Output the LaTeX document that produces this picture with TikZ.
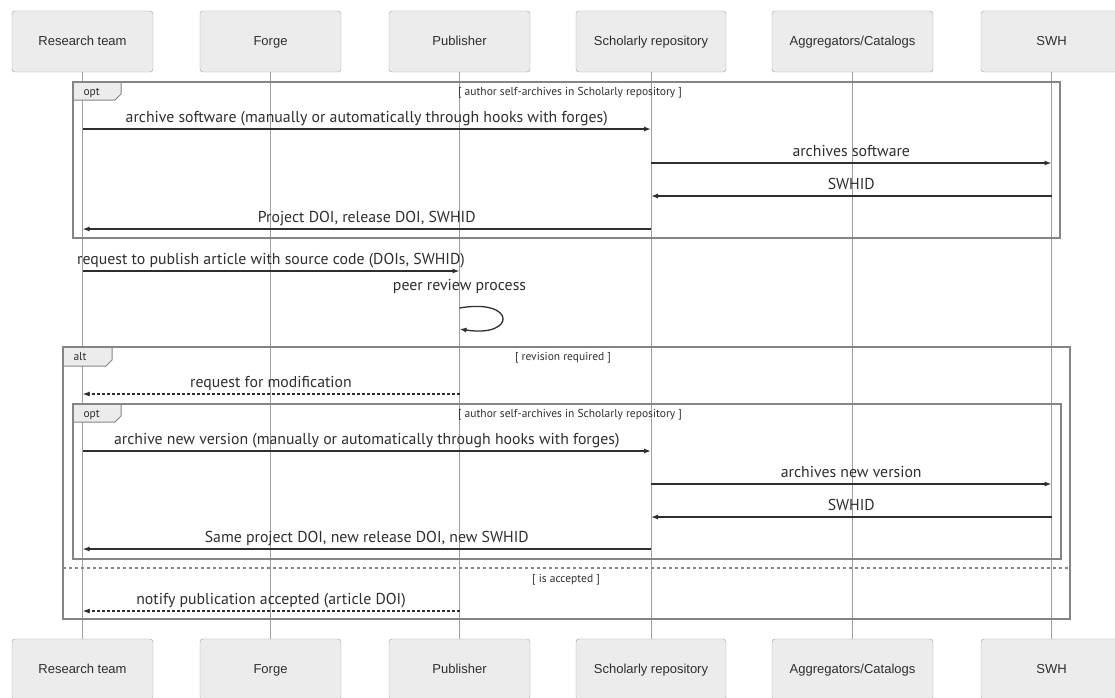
\documentclass[tikz,border=0pt]{standalone}
\usepackage{fontspec}
\setmainfont{PT Sans}
\newfontfamily\actorfont{Liberation Sans}
\usetikzlibrary{arrows.meta,calc}

\definecolor{actorfill}{HTML}{ECECEC}
\definecolor{actorline}{HTML}{A0A0A0}
\definecolor{frameline}{HTML}{858585}
\definecolor{lifegray}{HTML}{A0A0A0}
\definecolor{msgline}{HTML}{2E2E2E}

\tikzset{
  actor/.style={draw=actorline, fill=actorfill, rounded corners=3pt, minimum height=61pt,
    text height=9.5pt, text depth=2.5pt,
    font=\actorfont\fontsize{13}{15}\selectfont, text=msgline},
  life/.style={draw=lifegray, line width=0.8pt},
  frame/.style={draw=frameline, line width=1.8pt},
  tab/.style={fill=actorfill, draw=frameline, line width=1pt},
  msg/.style={draw=msgline, line width=1.3pt, -{Latex[length=7pt,width=5pt]}},
  reply/.style={msg, dash pattern=on 3pt off 2pt},
  msgtext/.style={anchor=base, yshift=7pt, font=\fontsize{15.8}{18}\selectfont, text=msgline},
  cond/.style={anchor=base, font=\fontsize{11.5}{13}\selectfont, text=msgline},
}

% message between two lifelines at height #4
\newcommand{\msg}[5][msg]{%
  \path (#2 |- 0,#4) coordinate (ma) (#3 |- 0,#4) coordinate (mb);
  \draw[#1] (ma) -- node[msgtext]{#5} (mb);
}

\begin{document}
\begin{tikzpicture}[x=1pt,y=-1pt]
\useasboundingbox (0,0) rectangle (1115,697);

% participants
\node[actor, minimum width=141pt] (rt) at (82.5,41.5) {Research team};
\node[actor, minimum width=141pt] (fg) at (270.5,41.5) {Forge};
\node[actor, minimum width=141pt] (pb) at (459.5,41.5) {Publisher};
\node[actor, minimum width=150pt] (sr) at (651,41.5) {Scholarly repository};
\node[actor, minimum width=161pt] (ag) at (852.5,41.5) {Aggregators/Catalogs};
\node[actor, minimum width=141pt] (sw) at (1051.5,41.5) {SWH};

\node[actor, minimum width=141pt] (rtb) at (82.5,669.5) {Research team};
\node[actor, minimum width=141pt] (fgb) at (270.5,669.5) {Forge};
\node[actor, minimum width=141pt] (pbb) at (459.5,669.5) {Publisher};
\node[actor, minimum width=150pt] (srb) at (651,669.5) {Scholarly repository};
\node[actor, minimum width=161pt] (agb) at (852.5,669.5) {Aggregators/Catalogs};
\node[actor, minimum width=141pt] (swb) at (1051.5,669.5) {SWH};

% lifelines
\draw[life] (rt) -- (rtb);
\draw[life] (fg) -- (fgb);
\draw[life] (pb) -- (pbb);
\draw[life] (sr) -- (srb);
\draw[life] (ag) -- (agb);
\draw[life] (sw) -- (swb);

% opt: first self-archiving
\draw[tab] (73,82) -- (121,82) -- (121,94) -- (115,100) -- (73,100) -- cycle;
\draw[frame] (73,82) rectangle (1060,238);
\node[cond, anchor=base west] (opt1) at (80,95) {opt};
\node[cond] (opt1c) at (570,95) {[ author self-archives in Scholarly repository ]};

\msg{rt}{sr}{129}{archive software (manually or automatically through hooks with forges)}
\msg{sr}{sw}{163}{archives software}
\msg{sw}{sr}{196}{SWHID}
\msg{sr}{rt}{229}{Project DOI, release DOI, SWHID}

\msg{rt}{pb}{271}{request to publish article with source code (DOIs, SWHID)}

% peer review loop
\node[msgtext, yshift=0pt] (prv) at (pb |- 0,297) {peer review process};
\path (pb |- 0,308) coordinate (ls) (pb |- 0,329) coordinate (le);
\draw[msg] (ls) .. controls ($(ls)+(57,-10)$) and ($(le)+(57,9)$) .. (le);

% alt
\draw[tab] (63,347) -- (112,347) -- (112,360) -- (106,366) -- (63,366) -- cycle;
\draw[frame] (63,347) rectangle (1070,619);
\node[cond, anchor=base west] (alt) at (70,360) {alt};
\node[cond] (altc) at (563,360) {[ revision required ]};

\msg[reply]{pb}{rt}{394}{request for modification}

% opt: second self-archiving
\draw[tab] (73,404) -- (121,404) -- (121,416) -- (115,422) -- (73,422) -- cycle;
\draw[frame] (73,404) rectangle (1061,559);
\node[cond, anchor=base west] (opt2) at (80,417) {opt};
\node[cond] (opt2c) at (570,417) {[ author self-archives in Scholarly repository ]};

\msg{rt}{sr}{451}{archive new version (manually or automatically through hooks with forges)}
\msg{sr}{sw}{484}{archives new version}
\msg{sw}{sr}{517}{SWHID}
\msg{sr}{rt}{549}{Same project DOI, new release DOI, new SWHID}

% else branch
\draw[draw=frameline, line width=1.2pt, dash pattern=on 3pt off 3pt] (63,568) -- (1070,568);
\node[cond] (elsec) at (566,582) {[ is accepted ]};

\msg[reply]{pb}{rt}{611}{notify publication accepted (article DOI)}
\end{tikzpicture}
\end{document}
